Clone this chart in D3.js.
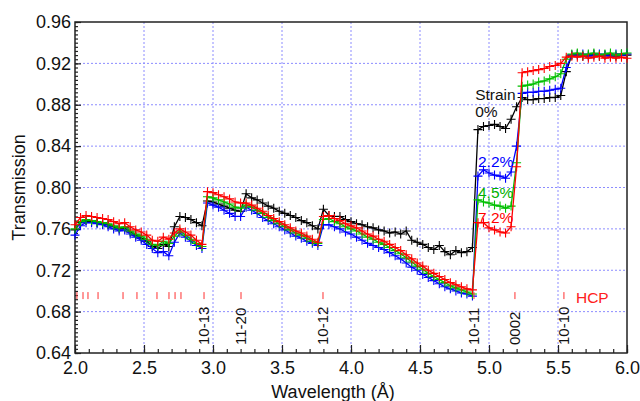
<!DOCTYPE html>
<html>
<head>
<meta charset="utf-8">
<script src="https://cdn.jsdelivr.net/npm/d3@7"></script>
<style>
  body { margin: 0; background: #fff; }
  svg { display: block; font-family: "Liberation Sans", Arial, sans-serif; }
</style>
</head>
<body>
<div id="chart"></div>
<script>
// Wavelength grid (Å), shared by the four strain curves
const wavelength = [2.00,2.04,2.08,2.12,2.16,2.20,2.24,2.28,2.32,2.36,2.40,2.44,2.48,2.52,2.56,2.60,2.64,2.68,2.72,2.76,
  2.80,2.84,2.88,2.92,2.96,3.00,3.04,3.08,3.12,3.16,3.20,3.24,3.28,3.32,3.36,3.40,3.44,3.48,3.52,3.56,
  3.60,3.64,3.68,3.72,3.76,3.80,3.84,3.88,3.92,3.96,4.00,4.04,4.08,4.12,4.16,4.20,4.24,4.28,4.32,4.36,
  4.40,4.44,4.48,4.52,4.56,4.60,4.64,4.68,4.72,4.76,4.80,4.84,4.88,4.92,4.96,5.00,5.04,5.08,5.12,5.16,
  5.20,5.24,5.28,5.32,5.36,5.40,5.44,5.48,5.52,5.56,5.60,5.64,5.68,5.72,5.76,5.80,5.84,5.88,5.92,5.96,6.00]

// Transmission for each strain
const strain0 = [.759,.766,.768,.767,.766,.765,.764,.762,.760,.761,.757,.754,.751,.748,.743,.741,.745,.743,.762,.772,.771,.769,.766,.763,
  .787,.786,.784,.782,.780,.778,.777,
  .794,.790,.788,.785,.782,.780,.777,.775,.773,.771,.768,.766,.763,.760,
  .779,.773,.772,.772,.769,.767,.765,.764,.762,.761,.759,.758,
  .756,.757,.755,.758,.749,.747,.745,.742,.740,.744,.738,.735,.739,.737,.738,.742,
  .856,.859,.860,.861,.859,.857,.866,
  .878,
  .887,.885,.885,.886,.886,.887,.887,.889,
  .912,
  .928,.929,.927,.928,.929,.927,.928,.928,.927,.929,.928]

const strain22 = [.754,.763,.766,.766,.765,.764,.762,.760,.758,.759,.755,.752,.749,.745,.741,.737,.738,.734,.747,.756,.752,.748,.744,.741,
  .785,.783,.781,.778,.775,.772,.772,
  .781,.778,.775,.771,.768,.765,.762,.759,.756,.753,.751,.748,.746,.744,
  .764,.764,.762,.760,.757,.755,.752,.749,.746,.744,.742,.740,
  .737,.734,.731,.727,.723,.720,.716,.713,.710,.707,.704,.702,.700,.698,.697,.695,
  .811,.817,.814,.812,.811,.809,.815,
  .840,
  .891,.892,.892,.893,.893,.894,.895,.896,
  .916,
  .928,.928,.929,.927,.928,.929,.928,.927,.929,.928,.929]

const strain45 = [.760,.767,.769,.768,.767,.766,.765,.763,.761,.762,.758,.755,.753,.750,.745,.744,.748,.746,.753,.758,.754,.750,.746,.743,
  .791,.790,.788,.786,.784,.781,.780,
  .783,.781,.778,.775,.771,.768,.765,.762,.759,.756,.754,.751,.748,.746,
  .769,.770,.767,.765,.762,.760,.758,.755,.752,.750,.747,.745,
  .742,.739,.736,.732,.728,.724,.721,.717,.714,.711,.708,.705,.703,.701,.699,.697,
  .788,.786,.785,.783,.782,.780,.782,
  .824,
  .898,.899,.900,.902,.903,.905,.907,.910,
  .924,
  .929,.930,.928,.929,.930,.928,.929,.930,.928,.929,.930]

const strain72 = [.764,.771,.773,.772,.771,.770,.769,.767,.765,.766,.762,.759,.757,.754,.749,.748,.752,.750,.756,.760,.757,.754,.749,.745,
  .796,.795,.793,.791,.789,.786,.785,
  .785,.783,.780,.777,.773,.770,.767,.764,.761,.758,.756,.753,.750,.747,
  .772,.773,.770,.768,.765,.763,.761,.758,.755,.753,.750,.748,
  .745,.742,.739,.735,.731,.727,.724,.720,.717,.714,.711,.708,.706,.704,.702,.701,
  .766,.766,.761,.759,.757,.756,.762,
  .820,
  .911,.912,.913,.914,.915,.917,.918,.920,
  .926,
  .927,.926,.927,.925,.926,.927,.925,.926,.925,.926,.925]

// HCP reflection positions (Å) and the labelled ones
const hcpPeaks = [2.014,2.058,2.094,2.167,2.348,2.449,2.594,2.681,2.725,2.768,2.935,3.203,3.797,4.891,5.188,5.543]
const hklNames = ["10-13","11-20","10-12","10-11","0002","10-10"]
const hklPos = [2.935,3.203,3.797,4.891,5.188,5.543]

const xTicks = [2.0,2.5,3.0,3.5,4.0,4.5,5.0,5.5,6.0]
const yTicks = [0.64,0.68,0.72,0.76,0.80,0.84,0.88,0.92,0.96]

const series = [
  { name: "0%", color: "#000000", values: strain0 },
  { name: "2.2%", color: "#0000ff", values: strain22 },
  { name: "4.5%", color: "#00c000", values: strain45 },
  { name: "7.2%", color: "#ff0000", values: strain72 }
]

const W = 640, H = 401
const margin = { top: 22, right: 13, bottom: 48, left: 75 },
  width = W - margin.left - margin.right,
  height = H - margin.top - margin.bottom

const svg = d3.select("#chart").append("svg")
  .attr("width", W)
  .attr("height", H)

const g = svg.append("g").attr("transform", `translate(${margin.left},${margin.top})`)

const x = d3.scaleLinear().domain([2, 6]).range([0, width])
const y = d3.scaleLinear().domain([0.64, 0.96]).range([height, 0])

// grid
g.append("g").selectAll("line")
  .data(xTicks.slice(1, -1))
  .join("line")
  .attr("x1", d => x(d)).attr("x2", d => x(d))
  .attr("y1", 0).attr("y2", height)
  .attr("stroke", "#8c8cff").attr("stroke-dasharray", "2,2")
g.append("g").selectAll("line")
  .data(yTicks.slice(1, -1))
  .join("line")
  .attr("y1", d => y(d)).attr("y2", d => y(d))
  .attr("x1", 0).attr("x2", width)
  .attr("stroke", "#8c8cff").attr("stroke-dasharray", "2,2")

// axes (ticks pointing inward)
const xMinor = d3.range(20, 61).map(d => d / 10)
const yMinor = d3.range(160, 241).map(d => d / 250)

g.append("g").attr("class", "axis")
  .attr("transform", `translate(0,${height})`)
  .call(d3.axisBottom(x).tickValues(xMinor).tickSize(-4).tickSizeOuter(0).tickFormat(""))
g.append("g").attr("class", "axis")
  .attr("transform", `translate(0,${height})`)
  .call(d3.axisBottom(x).tickValues(xTicks).tickSize(-8).tickSizeOuter(0).tickPadding(8).tickFormat(d3.format(".1f")))
g.append("g").attr("class", "axis")
  .call(d3.axisLeft(y).tickValues(yMinor).tickSize(-3).tickSizeOuter(0).tickFormat(""))
g.append("g").attr("class", "axis")
  .call(d3.axisLeft(y).tickValues(yTicks).tickSize(-6).tickSizeOuter(0).tickPadding(4).tickFormat(d3.format(".2f")))

g.selectAll(".axis .domain").remove()
g.selectAll(".axis line").attr("stroke", "#222").attr("stroke-width", 1.2)
g.selectAll(".axis text").attr("font-size", 18).attr("fill", "#111")
  .attr("font-family", "Liberation Sans, Arial, sans-serif")

// frame
g.append("rect")
  .attr("width", width).attr("height", height)
  .attr("fill", "none").attr("stroke", "#222").attr("stroke-width", 1.5)

// curves
const line = d3.line()
  .x((d, i) => x(wavelength[i]))
  .y(d => y(d))

series.forEach(s => {
  const sg = g.append("g")
  sg.append("path")
    .datum(s.values)
    .attr("d", line)
    .attr("fill", "none")
    .attr("stroke", s.color)
    .attr("stroke-width", 1.3)
  sg.selectAll("path.mk")
    .data(s.values)
    .join("path")
    .attr("class", "mk")
    .attr("d", (d, i) => {
      const px = x(wavelength[i]), py = y(d)
      return `M${px - 4.5},${py}H${px + 4.5}M${px},${py - 4.5}V${py + 4.5}`
    })
    .attr("stroke", s.color)
    .attr("stroke-width", 1.1)
})

// HCP reflection marks
const tickY = y(0.6955)
g.append("g").selectAll("line")
  .data(hcpPeaks)
  .join("line")
  .attr("x1", d => x(d)).attr("x2", d => x(d))
  .attr("y1", tickY - 3.5).attr("y2", tickY + 3.5)
  .attr("stroke", "#ff3030").attr("stroke-width", 1)

g.append("text")
  .attr("x", x(5.63)).attr("y", tickY + 7)
  .attr("fill", "#ff2020").attr("font-size", 15.5)
  .text("HCP")

g.append("g").selectAll("text")
  .data(hklNames)
  .join("text")
  .attr("transform", (d, i) => `translate(${x(hklPos[i])},${height - 8}) rotate(-90)`)
  .attr("dy", "0.35em")
  .attr("font-size", 15)
  .attr("fill", "#111")
  .text(d => d)

// strain annotations
const notes = [
  { t: "Strain", lx: 4.9, ty: 0.8846, c: "#111" },
  { t: "0%", lx: 4.9, ty: 0.8682, c: "#111" },
  { t: "2.2%", lx: 4.92, ty: 0.8199, c: "#0000ff" },
  { t: "4.5%", lx: 4.92, ty: 0.790, c: "#00b000" },
  { t: "7.2%", lx: 4.92, ty: 0.7658, c: "#ff0000" }
]
g.append("g").selectAll("text")
  .data(notes)
  .join("text")
  .attr("x", d => x(d.lx))
  .attr("y", d => y(d.ty))
  .attr("fill", d => d.c)
  .attr("font-size", 15.5)
  .text(d => d.t)

// axis titles
svg.append("text")
  .attr("x", margin.left + width / 2 - 18)
  .attr("y", 398)
  .attr("text-anchor", "middle")
  .attr("font-size", 18)
  .attr("fill", "#111")
  .text("Wavelength (Å)")

svg.append("text")
  .attr("transform", `translate(25,${margin.top + height / 2}) rotate(-90)`)
  .attr("text-anchor", "middle")
  .attr("font-size", 18)
  .attr("fill", "#111")
  .text("Transmission")
</script>
</body>
</html>
